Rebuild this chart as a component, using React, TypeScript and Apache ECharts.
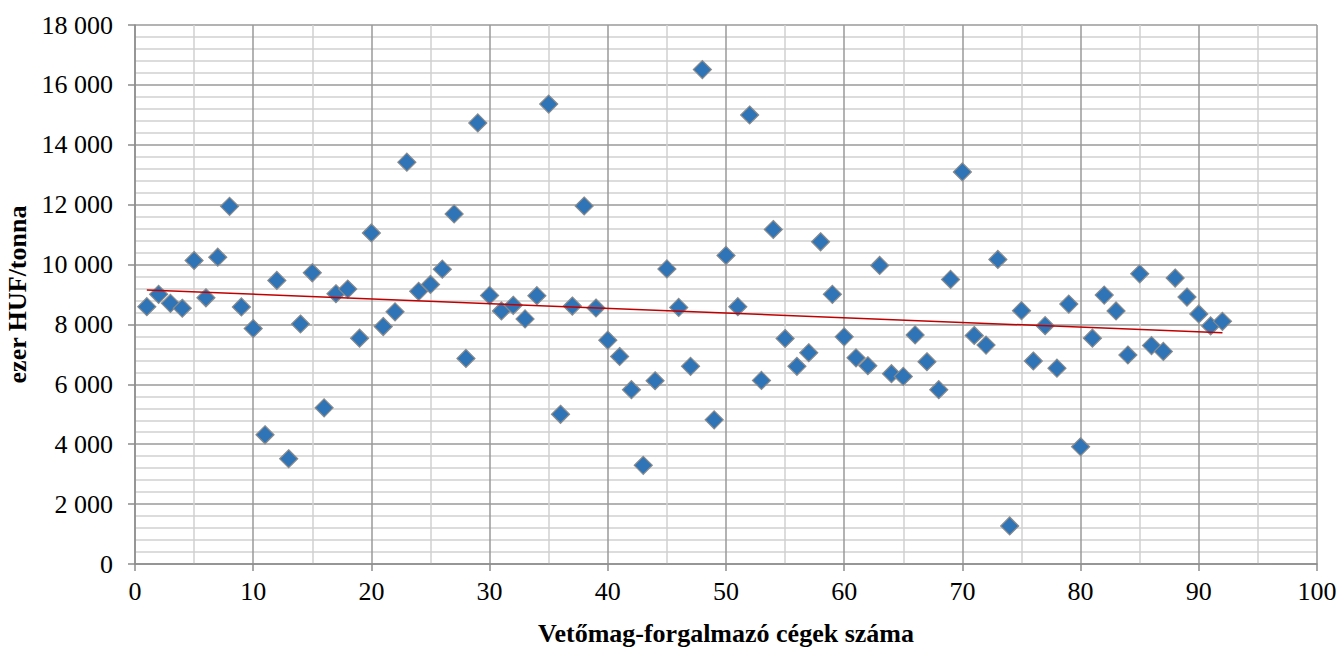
import React, { useEffect, useRef } from "react";
import * as echarts from "echarts";

const companyIndex: number[] = Array.from({ length: 92 }, (_, i) => i + 1);
const priceValues: number[] = [
  8595, 9005, 8705, 8540, 10135, 8890, 10245, 11945, 8585, 7865,
  4315, 9470, 3515, 8015, 9725, 5215, 9025, 9180, 7540, 11055,
  7930, 8420, 13420, 9105, 9335, 9845, 11690, 6865, 14730, 8970,
  8450, 8640, 8185, 8960, 15360, 5000, 8615, 11955, 8550, 7475,
  6930, 5820, 3295, 6120, 9855, 8570, 6600, 16510, 4815, 10305,
  8595, 14995, 6130, 11170, 7530, 6600, 7055, 10760, 9005, 7585,
  6885, 6620, 9970, 6355, 6265, 7650, 6755, 5820, 9505, 13095,
  7630, 7310, 10170, 1270, 8460, 6780, 7960, 6540, 8680, 3915,
  7540, 8980, 8450, 6980, 9690, 7295, 7100, 9550, 8915, 8350,
  7950, 8105,
];
const trendX: number[] = [1, 92];
const trendY: number[] = [9150, 7720];

const xTitle = "Vetőmag-forgalmazó cégek száma";
const yTitle = "ezer HUF/tonna";

const FONT = "Liberation Serif";

function fmtThousands(v: number): string {
  const s = String(Math.round(v));
  return s.replace(/\B(?=(\d{3})+(?!\d))/g, " ");
}

export default function App() {
  const ref = useRef<HTMLDivElement>(null);
  useEffect(() => {
    if (!ref.current) return;
    const chart = echarts.init(ref.current, undefined, { renderer: "svg" });
    const axisCommon = {
      axisLine: { show: true, lineStyle: { color: "#8c8c8c", width: 1.5 } },
      axisTick: { show: true, inside: false, length: 7, lineStyle: { color: "#8c8c8c", width: 1.5 } },
      splitLine: { show: true, lineStyle: { color: "#9a9a9a", width: 1.5 } },
    };
    chart.setOption({
      animation: false,
      backgroundColor: "#ffffff",
      textStyle: { fontFamily: FONT },
      grid: {
        left: 135,
        right: 21,
        top: 25,
        bottom: 84,
        containLabel: false,
        outerBoundsMode: "none",
      },
      xAxis: {
        type: "value",
        min: 0,
        max: 100,
        interval: 10,
        ...axisCommon,
        minorTick: { show: false, splitNumber: 2 },
        minorSplitLine: { show: true, lineStyle: { color: "#d0d0d0", width: 1.5 } },
        axisLabel: { fontFamily: FONT, fontSize: 26, color: "#000", margin: 14 },
        name: xTitle,
        nameLocation: "middle",
        nameGap: 56,
        nameTextStyle: { fontFamily: FONT, fontSize: 26, fontWeight: "bold", color: "#000" },
      },
      yAxis: {
        type: "value",
        min: 0,
        max: 18000,
        interval: 2000,
        ...axisCommon,
        minorTick: { show: false, splitNumber: 5 },
        minorSplitLine: { show: true, lineStyle: { color: "#d0d0d0", width: 1.5 } },
        axisLabel: {
          fontFamily: FONT,
          fontSize: 26,
          color: "#000",
          margin: 22,
          formatter: (v: number) => fmtThousands(v),
        },
        name: yTitle,
        nameLocation: "middle",
        nameGap: 99,
        nameRotate: 90,
        nameTextStyle: { fontFamily: FONT, fontSize: 26, fontWeight: "bold", color: "#000" },
      },
      series: [
        {
          type: "scatter",
          symbol: "diamond",
          symbolSize: 18,
          data: companyIndex.map((x, i) => [x, priceValues[i]]),
          itemStyle: { color: "#2e74b7", borderColor: "#8a8a8a", borderWidth: 1.2, opacity: 1 },
          z: 3,
        },
        {
          type: "line",
          data: trendX.map((x, i) => [x, trendY[i]]),
          showSymbol: false,
          symbol: "none",
          lineStyle: { color: "#c00000", width: 1.5 },
          z: 4,
        },
      ],
    });
    return () => chart.dispose();
  }, []);
  return (
    <div
      ref={ref}
      style={{ position: "fixed", left: 0, top: 0, width: 1338, height: 648, background: "#fff" }}
    />
  );
}
